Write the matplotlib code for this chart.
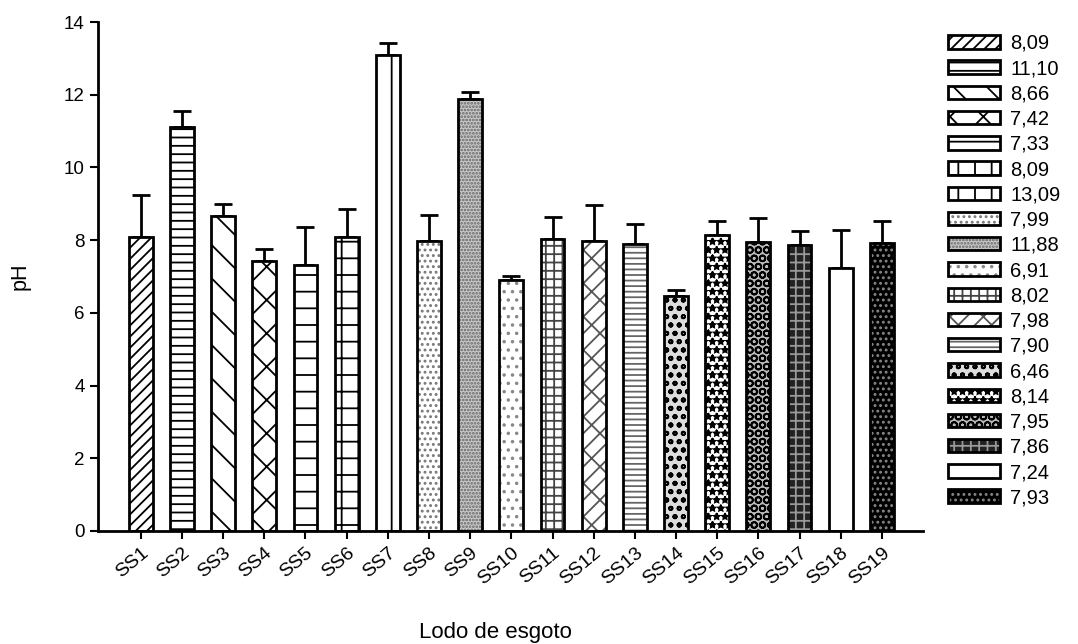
import matplotlib.pyplot as plt
from matplotlib.patches import Patch
from matplotlib.legend_handler import HandlerTuple

plt.rcParams['font.family'] = ['Liberation Sans', 'DejaVu Sans']
plt.rcParams['hatch.linewidth'] = 1.3

# pH of each sewage sludge sample (mean and upper error)
samples = ['SS1', 'SS2', 'SS3', 'SS4', 'SS5', 'SS6', 'SS7', 'SS8', 'SS9', 'SS10',
           'SS11', 'SS12', 'SS13', 'SS14', 'SS15', 'SS16', 'SS17', 'SS18', 'SS19']
ph_mean = [8.09, 11.10, 8.66, 7.42, 7.33, 8.09, 13.09, 7.99, 11.88, 6.91,
           8.02, 7.98, 7.90, 6.46, 8.14, 7.95, 7.86, 7.24, 7.93]
ph_err = [1.15, 0.45, 0.33, 0.34, 1.03, 0.77, 0.33, 0.70, 0.19, 0.10,
          0.62, 0.99, 0.54, 0.17, 0.39, 0.66, 0.39, 1.04, 0.60]
legend_labels = ['8,09', '11,10', '8,66', '7,42', '7,33', '8,09', '13,09', '7,99', '11,88', '6,91',
                 '8,02', '7,98', '7,90', '6,46', '8,14', '7,95', '7,86', '7,24', '7,93']

# fill colour, hatch colour, hatch pattern for each bar
styles = [
    ('white', 'black', '///'),
    ('white', 'black', '--'),
    ('white', 'black', '\\'),
    ('white', 'black', 'x'),
    ('white', 'black', '-'),
    ('white', 'black', '+'),
    ('white', 'black', '|'),
    ('white', '#777777', '...'),
    ('#c8c8c8', '#666666', '.....'),
    ('white', '#888888', '..'),
    ('white', '#444444', '++'),
    ('white', '#555555', '//\\'),
    ('white', '#666666', '---'),
    ('#dddddd', 'black', 'oo'),
    ('white', 'black', '**'),
    ('#bbbbbb', 'black', 'OO'),
    ('#222222', '#999999', '++'),
    ('white', 'black', ''),
    ('black', '#888888', '...'),
]

fig = plt.figure(figsize=(10.78, 6.44), dpi=100)
ax = fig.add_axes([0.0909, 0.1755, 0.765, 0.7903])

x = list(range(len(samples)))
width = 0.58
handles = []
for i, (fc, hc, hatch) in enumerate(styles):
    ax.bar(x[i], ph_mean[i], width=width, color=fc, edgecolor=hc, hatch=hatch, linewidth=0, zorder=2)
    ax.bar(x[i], ph_mean[i], width=width, fill=False, edgecolor='black', linewidth=2, zorder=3)
    handles.append((Patch(facecolor=fc, edgecolor=hc, hatch=hatch, linewidth=0),
                    Patch(fill=False, edgecolor='black', linewidth=2)))

ax.errorbar(x, ph_mean, yerr=[[0] * len(ph_err), ph_err], fmt='none', ecolor='black',
            elinewidth=2, capsize=6.5, capthick=2, zorder=1)

ax.set_xlim(-1.04, 18.99)
ax.set_ylim(0, 14)
ax.set_yticks(range(0, 15, 2))
ax.set_xticks(x)
ax.set_xticklabels(samples, rotation=40, ha='right', rotation_mode='anchor', fontsize=14)
ax.tick_params(axis='y', labelsize=13.5, width=1.5, length=6)
ax.tick_params(axis='x', width=1.5, length=6)
ax.spines['top'].set_visible(False)
ax.spines['right'].set_visible(False)
ax.spines['left'].set_linewidth(2)
ax.spines['bottom'].set_linewidth(2)

fig.text(20 / 1078, 0.571, 'pH', rotation=90, fontsize=15.5, ha='center', va='center')
fig.text(0.46, 0.0186, 'Lodo de esgoto', fontsize=16, ha='center', va='center')

fig.legend(handles, legend_labels, loc='upper left', bbox_to_anchor=(0.870, 0.963),
           frameon=False, fontsize=14.5, handlelength=2.6, handleheight=0.65,
           labelspacing=0.31, handletextpad=0.5, borderpad=0,
           handler_map={tuple: HandlerTuple(ndivide=1, pad=0)})

fig.savefig('out.png', dpi=100)
